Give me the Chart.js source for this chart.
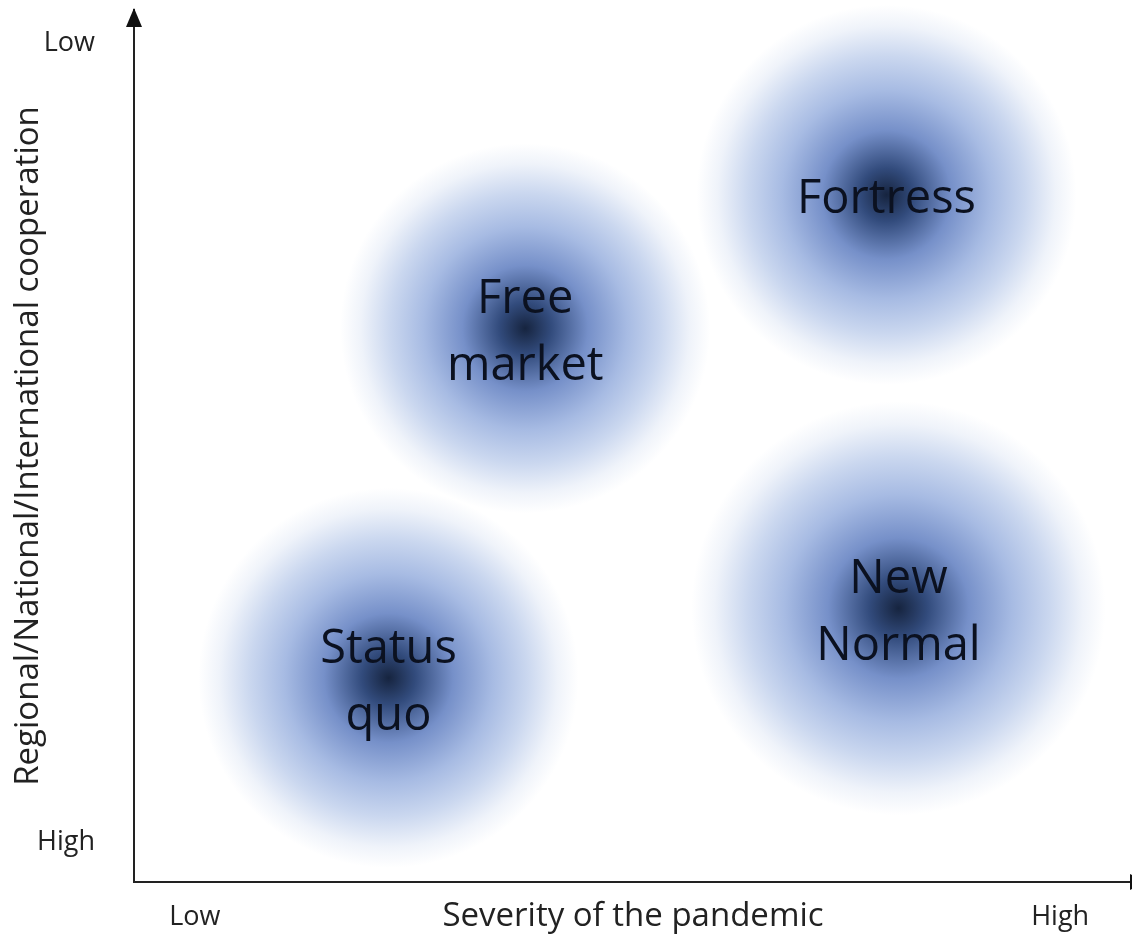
<!DOCTYPE html>
<html>
<head>
<meta charset="utf-8">
<script src="https://cdn.jsdelivr.net/npm/chart.js@4/dist/chart.umd.min.js"></script>
<style>
  html, body { margin: 0; padding: 0; background: #ffffff; }
  #wrap { width: 1132px; height: 937px; position: relative; }
</style>
</head>
<body>
<div id="wrap"><canvas id="c"></canvas></div>
<script>
// ---- data ----
const scenarioNames = [['Status', 'quo'], ['New', 'Normal'], ['Free', 'market'], ['Fortress']];
const severityX = [25.5, 76.6, 39.2, 75.4];       // x: severity of the pandemic (0 = low, 100 = high)
const cooperationY = [23.4, 31.4, 63.5, 78.8];    // y: 0 = high cooperation, 100 = low
const spreadR = [190, 207, 185, 190];             // bubble radius
const xTickValues = [6.1, 92.8];
const xTickLabels = ['Low', 'High'];
const yTickValues = [4.5, 96.2];
const yTickLabels = ['High', 'Low'];
const xTitle = 'Severity of the pandemic';
const yTitle = 'Regional/National/International cooperation';

const FONT = '"Open Sans", "DejaVu Sans", sans-serif';
const points = severityX.map((x, i) => ({ x: x, y: cooperationY[i], r: spreadR[i] }));

function blobFill(ctx) {
  const chart = ctx.chart;
  if (!chart.chartArea || ctx.type !== 'data') return 'rgba(120,150,210,0.6)';
  const raw = ctx.raw;
  const cx = chart.scales.x.getPixelForValue(raw.x);
  const cy = chart.scales.y.getPixelForValue(raw.y);
  const r = raw.r;
  const g = chart.ctx.createRadialGradient(cx, cy, 0, cx, cy, r);
  g.addColorStop(0.00, '#16243f');
  g.addColorStop(0.14, '#324b7c');
  g.addColorStop(0.34, '#7690c9');
  g.addColorStop(0.55, '#a7bbe3');
  g.addColorStop(0.73, '#cad7ef');
  g.addColorStop(0.89, '#eff3fa');
  g.addColorStop(1.00, '#ffffff');
  return g;
}

const labelPlugin = {
  id: 'scenarioLabels',
  afterDatasetsDraw(chart) {
    const meta = chart.getDatasetMeta(0);
    const c = chart.ctx;
    c.save();
    c.fillStyle = '#0b1120';
    c.font = '47px ' + FONT;
    c.textAlign = 'center';
    c.textBaseline = 'middle';
    const lh = 67;
    meta.data.forEach((el, i) => {
      const lines = scenarioNames[i];
      const startY = el.y + 5 - (lines.length - 1) * lh / 2;
      lines.forEach((t, k) => c.fillText(t, el.x, startY + k * lh));
    });
    c.restore();
  }
};

const arrowPlugin = {
  id: 'axisArrows',
  afterDraw(chart) {
    const a = chart.chartArea;
    const c = chart.ctx;
    c.save();
    c.fillStyle = '#111';
    c.beginPath();
    c.moveTo(a.left, a.top - 2);
    c.lineTo(a.left - 8, a.top + 17);
    c.lineTo(a.left + 8, a.top + 17);
    c.closePath();
    c.fill();
    c.beginPath();
    c.moveTo(a.right + 16, a.bottom);
    c.lineTo(a.right - 2, a.bottom - 8);
    c.lineTo(a.right - 2, a.bottom + 8);
    c.closePath();
    c.fill();
    c.restore();
  }
};

new Chart(document.getElementById('c'), {
  type: 'bubble',
  data: {
    datasets: [{
      data: points,
      backgroundColor: blobFill,
      borderWidth: 0,
      hoverBorderWidth: 0,
      clip: false
    }]
  },
  plugins: [labelPlugin, arrowPlugin],
  options: {
    responsive: true,
    maintainAspectRatio: false,
    animation: false,
    events: [],
    layout: { autoPadding: false, padding: { top: 10, right: 0, left: 0, bottom: 0 } },
    plugins: { legend: { display: false }, tooltip: { enabled: false } },
    scales: {
      x: {
        type: 'linear', min: 0, max: 100,
        grid: { display: false },
        border: { display: true, color: '#222', width: 2 },
        afterFit(scale) { scale.height = 55; scale.paddingLeft = 0; scale.paddingRight = 0; },
        afterBuildTicks(scale) { scale.ticks = xTickValues.map(v => ({ value: v })); },
        ticks: {
          autoSkip: false, maxRotation: 0, minRotation: 0, padding: 11,
          color: '#222', font: { family: FONT, size: 27 },
          callback: (v, i) => xTickLabels[i]
        },
        title: {
          display: true, text: xTitle, color: '#222',
          font: { family: FONT, size: 33 }, padding: { top: 0, bottom: 1 }
        }
      },
      y: {
        type: 'linear', min: 0, max: 100,
        grid: { display: false },
        border: { display: true, color: '#222', width: 2 },
        afterFit(scale) { scale.width = 134; scale.paddingTop = 0; scale.paddingBottom = 0; },
        afterBuildTicks(scale) { scale.ticks = yTickValues.map(v => ({ value: v })); },
        ticks: {
          autoSkip: false, padding: 31,
          color: '#222', font: { family: FONT, size: 27 },
          callback: (v, i) => yTickLabels[i]
        },
        title: {
          display: true, text: yTitle, color: '#222',
          font: { family: FONT, size: 33 }, padding: { top: 9, bottom: 0 }
        }
      }
    }
  }
});
</script>
</body>
</html>
